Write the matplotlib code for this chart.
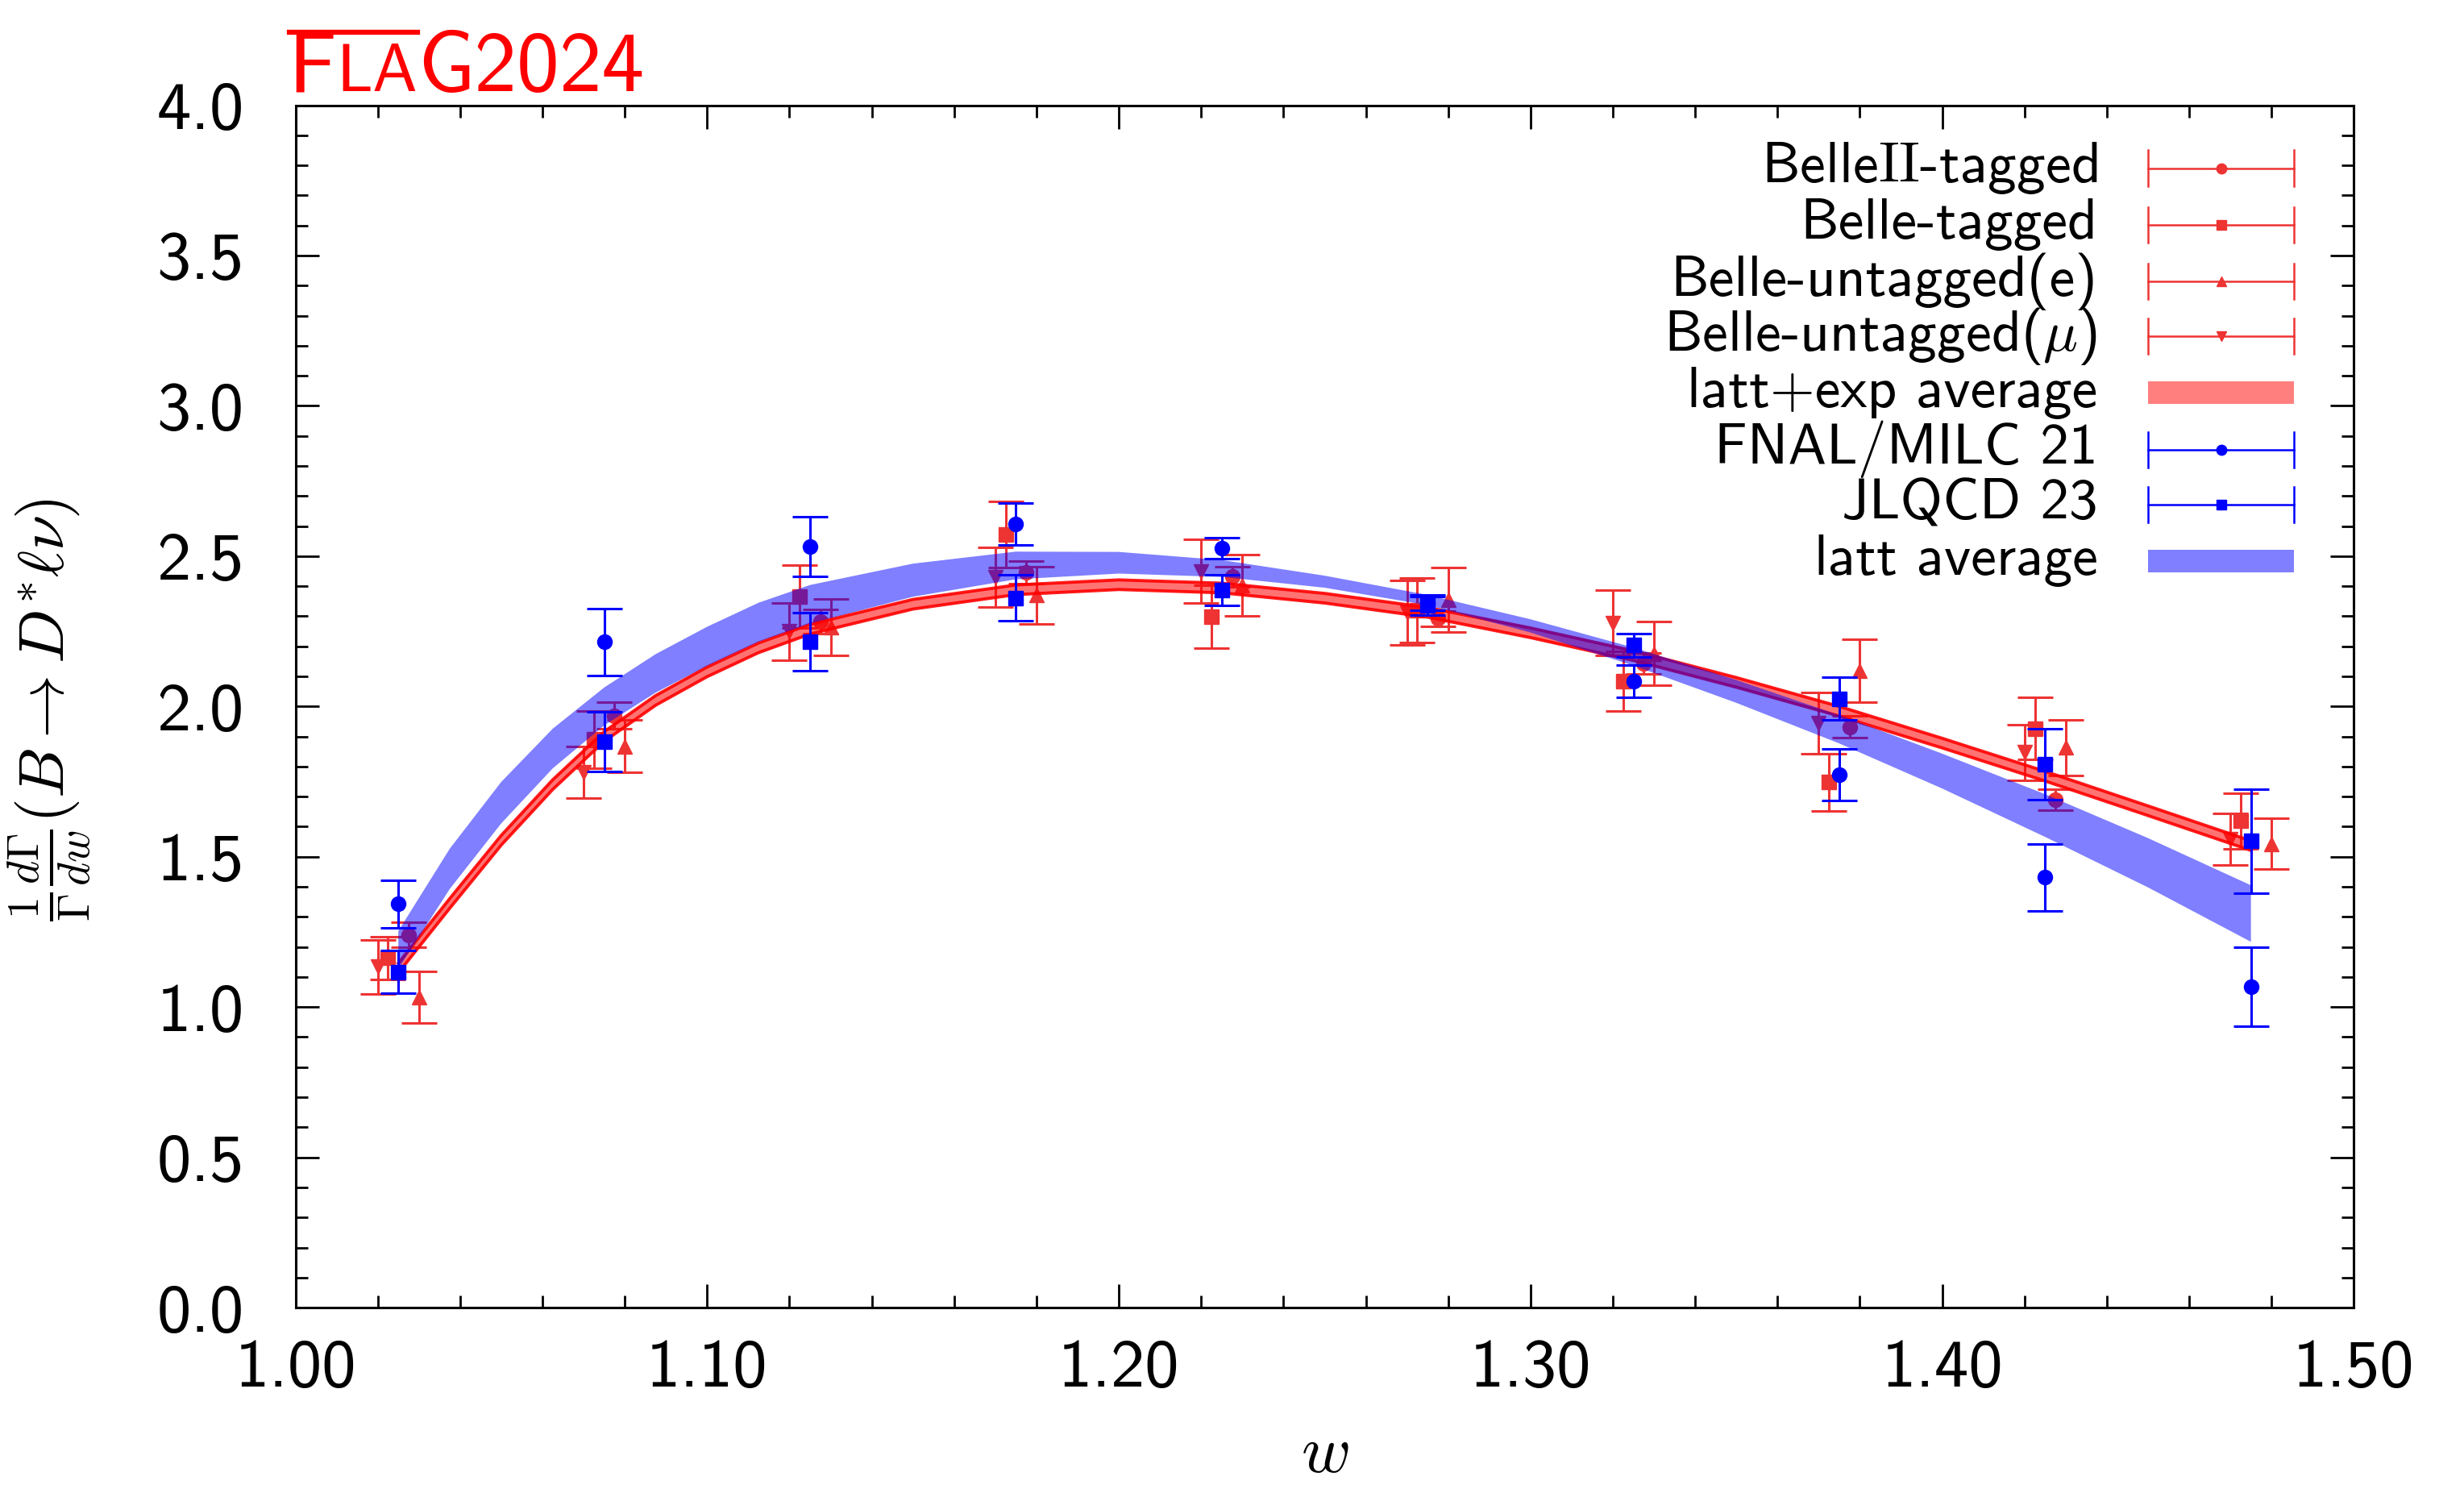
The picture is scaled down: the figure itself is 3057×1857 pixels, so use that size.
import numpy as np
import matplotlib
matplotlib.use("Agg")
import matplotlib.pyplot as plt
from matplotlib.ticker import MultipleLocator, FormatStrFormatter
from matplotlib.patches import Rectangle
from matplotlib.lines import Line2D

plt.rcParams['font.family'] = ['cmss10', 'DejaVu Sans']
plt.rcParams['mathtext.fontset'] = 'cm'
plt.rcParams['axes.unicode_minus'] = False

# ---------------- data ----------------
w_bins = [1.025, 1.075, 1.125, 1.175, 1.225, 1.275, 1.325, 1.375, 1.425, 1.475]

belle2_tagged     = [1.240, 1.970, 2.282, 2.446, 2.432, 2.292, 2.142, 1.932, 1.690, np.nan]
belle2_tagged_err = [0.042, 0.045, 0.040, 0.037, 0.034, 0.026, 0.035, 0.036, 0.034, np.nan]

belle_tagged      = [1.163, 1.890, 2.365, 2.571, 2.298, 2.320, 2.084, 1.748, 1.927, 1.619]
belle_tagged_err  = [0.070, 0.095, 0.105, 0.110, 0.105, 0.106, 0.100, 0.095, 0.103, 0.093]

belle_untag_e     = [1.033, 1.868, 2.263, 2.370, 2.403, 2.354, 2.176, 2.119, 1.863, 1.543]
belle_untag_e_err = [0.085, 0.088, 0.094, 0.096, 0.103, 0.107, 0.106, 0.104, 0.093, 0.085]

belle_untag_mu     = [1.134, 1.780, 2.249, 2.430, 2.450, 2.312, 2.278, 1.945, 1.847, 1.558]
belle_untag_mu_err = [0.090, 0.086, 0.094, 0.100, 0.106, 0.107, 0.109, 0.102, 0.093, 0.085]

fnal_milc     = [1.343, 2.215, 2.532, 2.607, 2.526, 2.345, 2.084, 1.773, 1.431, 1.068]
fnal_milc_err = [0.079, 0.111, 0.099, 0.070, 0.035, 0.025, 0.053, 0.085, 0.110, 0.131]

jlqcd     = [1.117, 1.883, 2.215, 2.361, 2.388, 2.335, 2.204, 2.026, 1.807, 1.552]
jlqcd_err = [0.071, 0.100, 0.096, 0.077, 0.051, 0.030, 0.039, 0.072, 0.118, 0.172]

band_w = [1.025, 1.0375, 1.050, 1.0625, 1.075, 1.0875, 1.100, 1.1125, 1.125, 1.150,
          1.175, 1.200, 1.225, 1.250, 1.275, 1.300, 1.325, 1.350, 1.375, 1.400,
          1.425, 1.450, 1.475]
lattexp_center = [1.130, 1.345, 1.555, 1.740, 1.900, 2.020, 2.115, 2.195, 2.257, 2.340,
                  2.388, 2.405, 2.394, 2.360, 2.313, 2.245, 2.169, 2.080, 1.984, 1.878,
                  1.768, 1.653, 1.537]
lattexp_half = [0.016] * 23
latt_center = [1.190, 1.460, 1.680, 1.860, 2.000, 2.110, 2.200, 2.280, 2.340, 2.420,
               2.469, 2.478, 2.459, 2.415, 2.354, 2.268, 2.166, 2.050, 1.924, 1.785,
               1.637, 1.480, 1.311]
latt_half = [0.063, 0.067, 0.069, 0.066, 0.063, 0.064, 0.065, 0.065, 0.064, 0.055,
             0.046, 0.036, 0.028, 0.020, 0.017, 0.022, 0.030, 0.038, 0.047, 0.058,
             0.071, 0.082, 0.094]

labels = [r'Belle$\mathrm{II}$-tagged', 'Belle-tagged', 'Belle-untagged(e)',
          r'Belle-untagged($\mu$)', 'latt+exp average', 'FNAL/MILC 21',
          'JLQCD 23', 'latt average']

# ---------------- style ----------------
RED = '#EE3333'
BLUE = '#0000FF'
W, H = 3057, 1857

fig = plt.figure(figsize=(W / 100, H / 100), dpi=100)
ax = fig.add_axes([0.1199, 0.1265, 0.9553 - 0.1199, 0.9297 - 0.1265])

wb = np.array(w_bins)
eb_kw = dict(linestyle='none', elinewidth=2.2, capsize=16, capthick=2.2)

series_red = [
    (belle2_tagged, belle2_tagged_err, 'o', +0.0025),
    (belle_tagged, belle_tagged_err, 's', -0.0025),
    (belle_untag_e, belle_untag_e_err, '^', +0.005),
    (belle_untag_mu, belle_untag_mu_err, 'v', -0.005),
]
for vals, errs, mk, off in series_red:
    ax.errorbar(wb + off, vals, yerr=errs, marker=mk, color=RED, ms=13,
                zorder=2, **eb_kw)

bw = np.array(band_w)
lc = np.array(lattexp_center); lh = np.array(lattexp_half)
ax.fill_between(bw, lc - lh, lc + lh, facecolor=(1, 0, 0, 0.55), edgecolor='none', zorder=3)
ax.plot(bw, lc - lh, color=(1, 0, 0, 0.9), lw=2.8, zorder=3, solid_joinstyle='round')
ax.plot(bw, lc + lh, color=(1, 0, 0, 0.9), lw=2.8, zorder=3, solid_joinstyle='round')

bc = np.array(latt_center); bh = np.array(latt_half)
ax.fill_between(bw, bc - bh, bc + bh, facecolor=(0, 0, 1, 0.5), edgecolor='none', zorder=4)

for vals, errs, mk in [(fnal_milc, fnal_milc_err, 'o'), (jlqcd, jlqcd_err, 's')]:
    ax.errorbar(wb, vals, yerr=errs, marker=mk, color=BLUE, ms=13, zorder=5, **eb_kw)

# ---------------- axes ----------------
ax.set_xlim(1.0, 1.5)
ax.set_ylim(0.0, 4.0)
ax.xaxis.set_major_locator(MultipleLocator(0.1))
ax.xaxis.set_minor_locator(MultipleLocator(0.02))
ax.yaxis.set_major_locator(MultipleLocator(0.5))
ax.yaxis.set_minor_locator(MultipleLocator(0.1))
ax.xaxis.set_major_formatter(FormatStrFormatter('%.2f'))
ax.yaxis.set_major_formatter(FormatStrFormatter('%.1f'))
ax.tick_params(which='both', direction='in', top=True, right=True, width=2.0)
ax.tick_params(which='major', length=21)
ax.tick_params(which='minor', length=11)
ax.tick_params(axis='y', which='major', pad=46, labelsize=61)
ax.tick_params(axis='x', which='major', pad=28, labelsize=61)
for s in ax.spines.values():
    s.set_linewidth(2.2)

ax.set_xlabel(r'$w$', fontsize=60)
ax.xaxis.set_label_coords(0.5, -0.097)
ax.set_ylabel(r'$\frac{1}{\Gamma}\frac{d\Gamma}{dw}(B\rightarrow D^{*}\ell\nu)$',
              fontsize=57)
ax.yaxis.set_label_coords(-0.098, 0.497)

# ---------------- legend (manual) ----------------
rows_y = [0.9477, 0.9007, 0.8536, 0.8078, 0.7608, 0.7137, 0.668, 0.6209]
tx, hx0, hx1 = 0.8756, 0.900, 0.971
hxm = 0.5 * (hx0 + hx1)
capdy = 0.0148
kinds = [('eb', RED, 'o'), ('eb', RED, 's'), ('eb', RED, '^'), ('eb', RED, 'v'),
         ('band', (1, 0, 0, 0.5), None), ('eb', BLUE, 'o'), ('eb', BLUE, 's'),
         ('band', (0, 0, 1, 0.5), None)]
for y, lab, (kind, col, mk) in zip(rows_y, labels, kinds):
    ax.text(tx, y, lab, transform=ax.transAxes, ha='right', va='center',
            fontsize=51.5, zorder=10)
    if kind == 'eb':
        ax.plot([hx0, hx1], [y, y], color=col, lw=1.8, transform=ax.transAxes,
                clip_on=False, zorder=10)
        for xx in (hx0, hx1):
            ax.plot([xx, xx], [y - capdy, y + capdy], color=col, lw=1.8,
                    transform=ax.transAxes, clip_on=False, zorder=10)
        ax.plot([hxm], [y], marker=mk, color=col, ms=9, transform=ax.transAxes,
                clip_on=False, zorder=10)
    else:
        ax.add_patch(Rectangle((hx0, y - 0.0095), hx1 - hx0, 0.019,
                               transform=ax.transAxes, facecolor=col,
                               edgecolor='none', zorder=10))

# ---------------- title logo ----------------
renderer = fig.canvas.get_renderer()
xpos = 357.0
base = H - 113.0
big, small = 76, 60
x_after_A = None
for s, fs in [('F', big), ('LA', small), ('G2024', big)]:
    t = fig.text(xpos / W, base / H, s, color='red', fontsize=fs,
                 ha='left', va='baseline')
    bb = t.get_window_extent(renderer)
    xpos = bb.x1
    if s == 'LA':
        x_after_A = bb.x1
cap_top = base + 0.694 * big * 100 / 72
fig.add_artist(Line2D([359 / W, x_after_A / W], [cap_top / H, cap_top / H],
                      color='red', lw=4.5))

fig.savefig('out.png', dpi=100)
